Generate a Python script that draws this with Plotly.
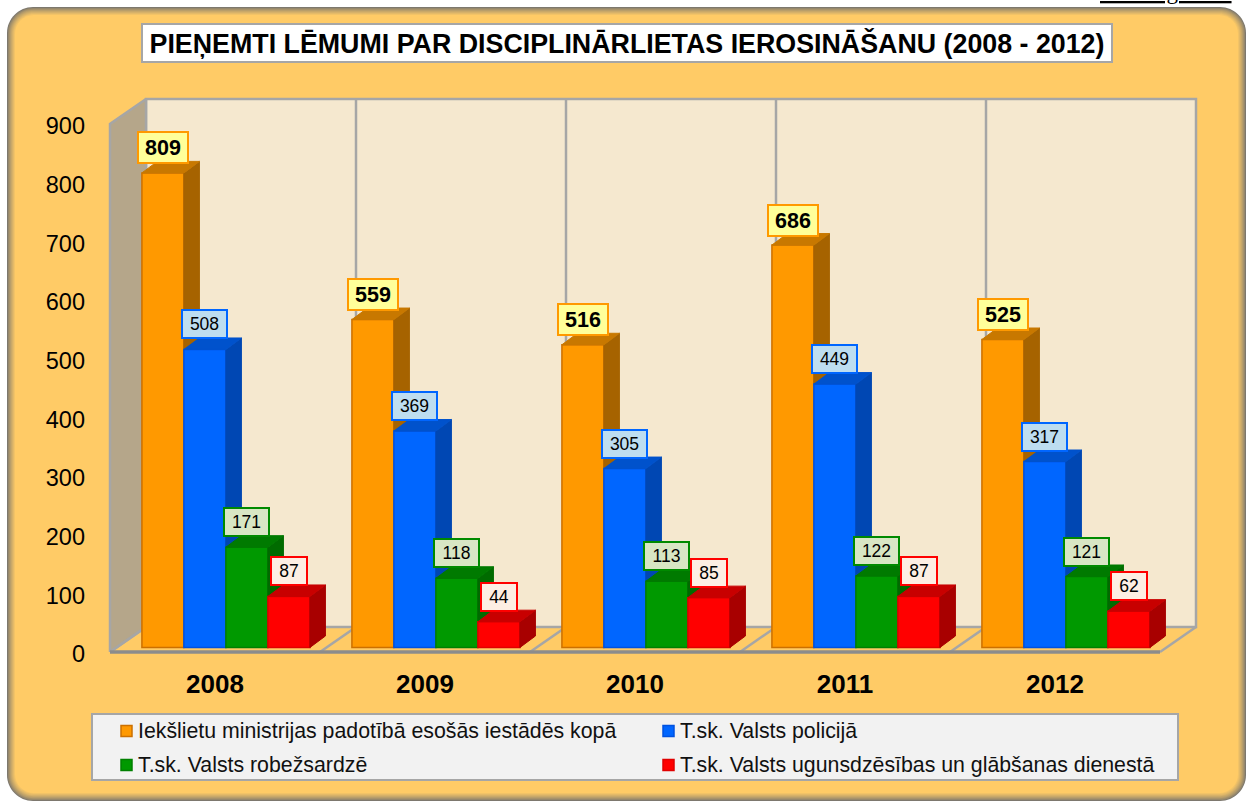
import plotly.graph_objects as go

# ---- data ----
years = ["2008", "2009", "2010", "2011", "2012"]
series_names = [
    "Iekšlietu ministrijas padotībā esošās iestādēs kopā",
    "T.sk. Valsts policijā",
    "T.sk. Valsts robežsardzē",
    "T.sk. Valsts ugunsdzēsības un glābšanas dienestā",
]
total = [809, 559, 516, 686, 525]
police = [508, 369, 305, 449, 317]
border = [171, 118, 113, 122, 121]
fire = [87, 44, 85, 87, 62]
y_ticks = [0, 100, 200, 300, 400, 500, 600, 700, 800, 900]
title_text = "PIEŅEMTI LĒMUMI PAR DISCIPLINĀRLIETAS IEROSINĀŠANU (2008 - 2012)"
corner_text = "Detalizgrāfikā"

W, H = 1250, 803
X0, X1, Y0, Y1 = 110, 1160, 652, 124     # front plane of the chart, in pixels
PX = 1 / ((X1 - X0) / 5)                 # x units per pixel
PY = 900 / (Y0 - Y1)                     # y units per pixel
WALL_DX, WALL_DY = 36 * PX, 25 * PY      # wall depth
BAR_DX, BAR_DY = 15.5 * PX, 11.5 * PY    # bar depth
BAR_BASE = 4.5 * PY
BAR_W = 0.2
# the plot area is larger than the front plane, because lines are clipped to it
DL, DR, DT, DB = 104, 1205, 92, 660
xl, xr = -0.5, 4.5
XR = [xl - (X0 - DL) * PX, xr + (DR - X1) * PX]
YR = [-(DB - Y0) * PY, (Y0 - DT) * PY]

styles = [
    dict(vals=total, off=-0.248, front="#FF9900", side="#A66300", top="#C87800", line="#CC7000",
         box="#FFFF99", edge="#FF9900", bold=True, fs=21.5, bw=52, bh=33),
    dict(vals=police, off=-0.048, front="#0066FF", side="#0047B3", top="#0052CC", line="#0052E0",
         box="#BDDDF0", edge="#0066FF", bold=False, fs=17.5, bw=47, bh=30),
    dict(vals=border, off=0.152, front="#009900", side="#006B00", top="#007A00", line="#008000",
         box="#D8E6C4", edge="#008A00", bold=False, fs=17.5, bw=47, bh=30),
    dict(vals=fire, off=0.352, front="#FF0000", side="#A80000", top="#C80000", line="#E00000",
         box="#FDEEE3", edge="#FF0000", bold=False, fs=17.5, bw=38, bh=30),
]


def px(x):
    return x / W


def py(y):
    return 1 - y / H


def rrect(x0, y0, x1, y1, r):
    k = 0.45 * r
    a, b, c, d = px(x0), py(y0), px(x1), py(y1)
    rx, ry, kx, ky = r / W, r / H, k / W, k / H
    return (f"M{a+rx},{b} L{c-rx},{b} C{c-kx},{b} {c},{b-ky} {c},{b-ry} "
            f"L{c},{d+ry} C{c},{d+ky} {c-kx},{d} {c-rx},{d} "
            f"L{a+rx},{d} C{a+kx},{d} {a},{d+ky} {a},{d+ry} "
            f"L{a},{b-ry} C{a},{b-ky} {a+kx},{b} {a+rx},{b} Z")


def mix(c1, c2, t):
    return "#" + "".join(f"{round(a + (b - a) * t):02X}" for a, b in zip(c1, c2))


fig = go.Figure()
shapes = []
# ---- rounded panel with an inner shaded edge ----
dark, panel = (125, 120, 110), (255, 203, 102)
for i in range(9):
    col = mix(dark, panel, (i / 8) ** 0.8)
    shapes.append(dict(type="path", path=rrect(7 + i, 7 + i, 1246 - i, 801 - i, 26 - i * 0.9),
                       xref="paper", yref="paper", fillcolor=col, line=dict(width=0), layer="below"))
# title and legend boxes
shapes.append(dict(type="rect", xref="paper", yref="paper", x0=px(142), x1=px(1112), y0=py(62), y1=py(24),
                   fillcolor="#FFFFFF", line=dict(color="#A6A6A6", width=2), layer="below"))
shapes.append(dict(type="rect", xref="paper", yref="paper", x0=px(92), x1=px(1178), y0=py(780), y1=py(714),
                   fillcolor="#F2F2F2", line=dict(color="#A6A6A6", width=2), layer="below"))

# ---- walls ----
wall_line = dict(color="#A6A6A6", width=2.5)
fig.add_trace(go.Scatter(x=[xl + WALL_DX, xr + WALL_DX, xr + WALL_DX, xl + WALL_DX, xl + WALL_DX],
                         y=[WALL_DY, WALL_DY, 900 + WALL_DY, 900 + WALL_DY, WALL_DY], fill="toself",
                         fillcolor="#F5E8CF", mode="lines", line=wall_line,
                         hoverinfo="skip", showlegend=False))
fig.add_trace(go.Scatter(x=[xl, xl + WALL_DX, xl + WALL_DX, xl, xl],
                         y=[0, WALL_DY, 900 + WALL_DY, 900, 0], fill="toself",
                         fillcolor="#B5A68A", mode="lines", line=wall_line,
                         hoverinfo="skip", showlegend=False))
for i in range(6):
    xs, ys = [xl + i, xl + i + WALL_DX], [0, WALL_DY]
    if 0 < i < 5:
        xs.append(xl + i + WALL_DX)
        ys.append(900 + WALL_DY)
    fig.add_trace(go.Scatter(x=xs, y=ys, mode="lines", line=wall_line,
                             hoverinfo="skip", showlegend=False))
fig.add_trace(go.Scatter(x=[xl, xr], y=[0, 0], mode="lines", line=dict(color="#8C8C8C", width=3.5),
                         hoverinfo="skip", showlegend=False))

# ---- one overlaid axis pair per series, so later series paint over earlier ones ----
annotations = []
for k, s in enumerate(styles):
    n = k + 2
    xa, ya = f"x{n}", f"y{n}"
    fig.update_layout({
        f"xaxis{n}": dict(overlaying="x", range=XR, visible=False, domain=[px(DL), px(DR)], anchor=ya, automargin=False),
        f"yaxis{n}": dict(overlaying="y", range=YR, visible=False, domain=[py(DB), py(DT)], anchor=xa, automargin=False),
    })
    xpos = [i + s["off"] for i in range(5)]
    fig.add_trace(go.Bar(x=xpos, y=s["vals"], base=BAR_BASE, width=BAR_W, xaxis=xa, yaxis=ya,
                         name=series_names[k], marker=dict(color=s["front"], line=dict(color=s["line"], width=1.5)),
                         showlegend=False))
    for x, v in zip(xpos, s["vals"]):
        a, b = x - BAR_W / 2, x + BAR_W / 2
        bot, tp = BAR_BASE, BAR_BASE + v
        fig.add_trace(go.Scatter(x=[b, b + BAR_DX, b + BAR_DX, b, b], y=[bot, bot + BAR_DY, tp + BAR_DY, tp, bot],
                                 fill="toself", fillcolor=s["side"], mode="lines", line=dict(color=s["side"], width=1),
                                 xaxis=xa, yaxis=ya, hoverinfo="skip", showlegend=False))
        fig.add_trace(go.Scatter(x=[a, b, b + BAR_DX, a + BAR_DX, a], y=[tp, tp, tp + BAR_DY, tp + BAR_DY, tp],
                                 fill="toself", fillcolor=s["top"], mode="lines", line=dict(color=s["top"], width=1),
                                 xaxis=xa, yaxis=ya, hoverinfo="skip", showlegend=False))
        txt = f"<b>{v}</b>" if s["bold"] else str(v)
        annotations.append(dict(x=x, y=BAR_BASE + v, xref="x", yref="y", yshift=25, text=txt, showarrow=False,
                                bgcolor=s["box"], bordercolor=s["edge"], borderwidth=2, borderpad=0,
                                width=s["bw"] - 4, height=s["bh"] - 4, align="center", valign="middle",
                                font=dict(family="Liberation Sans", size=s["fs"], color="#000000")))

# ---- legend ----
legend_pos = [(121, 731), (663, 731), (121, 765), (663, 765)]
for (lx, ly), name, s in zip(legend_pos, series_names, styles):
    shapes.append(dict(type="rect", xref="paper", yref="paper", x0=px(lx), x1=px(lx + 11), y0=py(ly + 5.5), y1=py(ly - 5.5),
                       fillcolor=s["front"], line=dict(color=s["line"], width=1.5), layer="above"))
    annotations.append(dict(x=px(lx + 15), y=py(ly), xref="paper", yref="paper", xanchor="left", yanchor="middle",
                            text=name, showarrow=False,
                            font=dict(family="Liberation Sans", size=21.3, color="#111111")))

annotations.append(dict(x=px(1098), y=py(-8), xref="paper", yref="paper", xanchor="left", yanchor="middle",
                        text=f"<u>{corner_text}</u>", showarrow=False,
                        font=dict(family="Liberation Serif", size=23, color="#000000")))

fig.update_layout(
    width=W, height=H, autosize=False,
    margin=dict(l=0, r=0, t=0, b=0, pad=0),
    paper_bgcolor="#FFFFFF", plot_bgcolor="rgba(0,0,0,0)",
    barmode="overlay", showlegend=False,
    title=dict(text=f"<b>{title_text}</b>", x=px(627), y=py(44), xanchor="center", yanchor="middle",
               font=dict(family="Liberation Sans", size=26.8, color="#000000")),
    xaxis=dict(domain=[px(DL), px(DR)], range=XR, tickmode="array", tickvals=list(range(5)), ticktext=years,
               showgrid=False, zeroline=False, showline=False, ticks="", ticklabelstandoff=6, automargin=False,
               tickfont=dict(family="Liberation Sans", size=26, color="#000000", weight="bold"), anchor="y"),
    yaxis=dict(domain=[py(DB), py(DT)], range=YR, tickmode="array", tickvals=y_ticks,
               showgrid=False, zeroline=False, showline=False, ticks="", ticklabelstandoff=18, ticklabelshift=2,
               automargin=False,
               tickfont=dict(family="Liberation Sans", size=23.5, color="#000000"), anchor="x"),
    shapes=shapes, annotations=annotations,
)
fig.write_html("out.html", config={"displayModeBar": False},
               post_script="document.body.style.margin='0';document.body.style.overflow='hidden';")
